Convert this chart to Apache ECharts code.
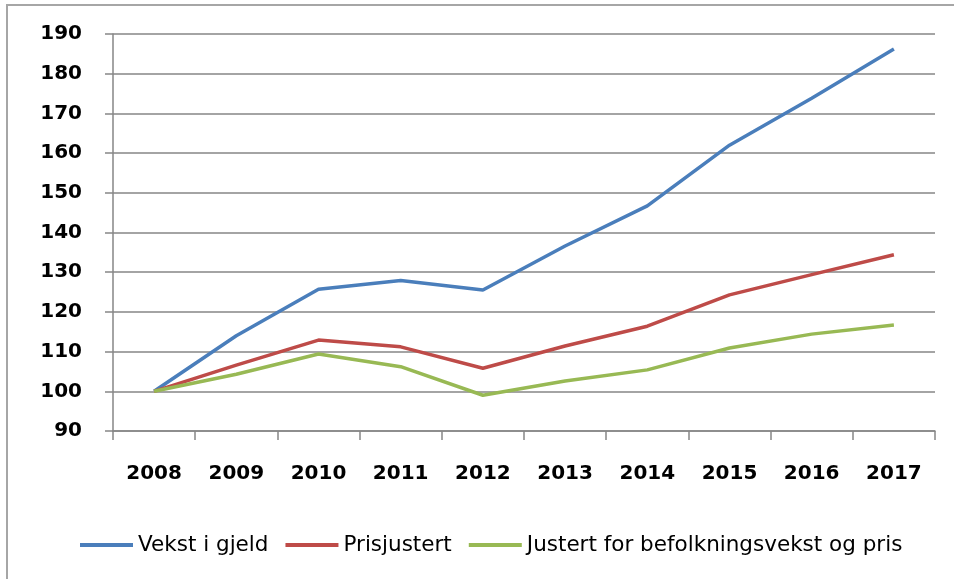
<!DOCTYPE html>
<html>
<head>
<meta charset="utf-8">
<script src="https://cdn.jsdelivr.net/npm/echarts@6/dist/echarts.min.js"></script>
<style>
html,body{margin:0;padding:0;background:#fff;}
#main{width:954px;height:579px;}
</style>
</head>
<body>
<div id="main"></div>
<script>
const categories = ['2008','2009','2010','2011','2012','2013','2014','2015','2016','2017'];
const seriesNames = ['Vekst i gjeld','Prisjustert','Justert for befolkningsvekst og pris'];
const vekstIGjeld = [100, 114, 125.7, 127.9, 125.5, 136.6, 146.7, 162, 173.8, 186.2];
const prisjustert = [100, 106.6, 112.9, 111.2, 105.8, 111.4, 116.4, 124.3, 129.4, 134.4];
const justert = [100, 104.3, 109.4, 106.2, 99.0, 102.6, 105.4, 110.9, 114.4, 116.7];
const colors = ['#4a7ebb', '#be4b48', '#98b954'];
const yMin = 90, yMax = 190, yStep = 10;

const chart = echarts.init(document.getElementById('main'));
const font = 'DejaVu Sans';
const seriesData = [vekstIGjeld, prisjustert, justert];
chart.setOption({
  animation: false,
  graphic: [{
    type: 'rect',
    shape: {x: 7, y: 5, width: 1000, height: 1000},
    style: {fill: 'none', stroke: '#a6a6a6', lineWidth: 2},
    silent: true
  }],
  grid: {left: 113, right: 19, top: 34, bottom: 148},
  legend: {
    left: 75, top: 529,
    itemWidth: 53, itemHeight: 4, itemGap: 17,
    icon: 'rect',
    textStyle: {fontFamily: font, fontSize: 21.5, color: '#000'},
    data: seriesNames
  },
  xAxis: {
    type: 'category',
    data: categories,
    boundaryGap: true,
    axisLine: {lineStyle: {color: '#868686', width: 1.5}},
    axisTick: {show: true, length: 9, lineStyle: {color: '#868686', width: 1.5}},
    axisLabel: {fontFamily: font, fontSize: 20, fontWeight: 'bold', color: '#000', margin: 33}
  },
  yAxis: {
    type: 'value',
    min: yMin, max: yMax, interval: yStep,
    axisLine: {show: true, lineStyle: {color: '#868686', width: 1.5}},
    axisTick: {show: true, length: 8, lineStyle: {color: '#868686', width: 1.5}},
    splitLine: {lineStyle: {color: '#868686', width: 1.5}},
    axisLabel: {fontFamily: font, fontSize: 20, fontWeight: 'bold', color: '#000', margin: 31}
  },
  series: seriesNames.map((n, i) => ({
    name: n,
    type: 'line',
    data: seriesData[i],
    showSymbol: false,
    symbol: 'none',
    lineStyle: {color: colors[i], width: 3.5},
    itemStyle: {color: colors[i]}
  }))
});
</script>
</body>
</html>
